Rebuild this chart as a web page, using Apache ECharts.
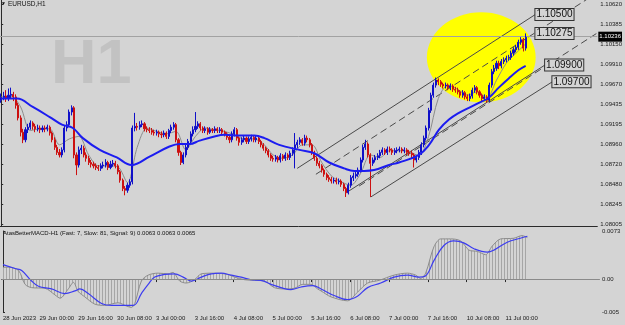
<!doctype html>
<html lang="en">
<head>
<meta charset="UTF-8">
<title>EURUSD,H1</title>
<style>
  * { margin: 0; padding: 0; }
  body { background: #d4d4d4; }
  #main { width: 625px; height: 325px; }
</style>
</head>
<body>
<div id="main"></div>
<script src="https://cdn.jsdelivr.net/npm/echarts@6/dist/echarts.min.js"></script>
<script>
// EURUSD H1, bar 0 = 28 Jun 09:00, last bar = 11 Jul 09:00 (weekend skipped)
const barCount = 246; // slots incl. the empty chart shift on the right
const firstOpen = 1.0948;

const closes = [
  1.0951, 1.0953, 1.0950, 1.0954, 1.0955, 1.0952, 1.0942, 1.0927, 1.0910, 1.0901,
  1.0913, 1.0916, 1.0921, 1.0917, 1.0914, 1.0915, 1.0913, 1.0915, 1.0914, 1.0916,
  1.0909, 1.0901, 1.0892, 1.0886, 1.0883, 1.0889, 1.0915, 1.0919, 1.0934, 1.0939,
  1.0883, 1.0871, 1.0889, 1.0891, 1.0883, 1.0879, 1.0874, 1.0872, 1.0870, 1.0868,
  1.0867, 1.0870, 1.0871, 1.0874, 1.0868, 1.0872, 1.0873, 1.0870, 1.0863, 1.0853,
  1.0843, 1.0841, 1.0847, 1.0851, 1.0915, 1.0917, 1.0916, 1.0919, 1.0920, 1.0914,
  1.0913, 1.0912, 1.0910, 1.0909, 1.0910, 1.0908, 1.0907, 1.0909, 1.0905, 1.0912,
  1.0916, 1.0919, 1.0901, 1.0886, 1.0874, 1.0883, 1.0892, 1.0899, 1.0908, 1.0913,
  1.0917, 1.0920, 1.0915, 1.0912, 1.0914, 1.0910, 1.0913, 1.0912, 1.0914, 1.0912,
  1.0913, 1.0910, 1.0908, 1.0904, 1.0901, 1.0908, 1.0913, 1.0903, 1.0898, 1.0901,
  1.0903, 1.0899, 1.0902, 1.0904, 1.0901, 1.0903, 1.0899, 1.0895, 1.0891, 1.0888,
  1.0883, 1.0879, 1.0878, 1.0880, 1.0877, 1.0882, 1.0879, 1.0883, 1.0880, 1.0885,
  1.0889, 1.0895, 1.0898, 1.0901, 1.0897, 1.0903, 1.0901, 1.0895, 1.0886, 1.0879,
  1.0873, 1.0870, 1.0865, 1.0860, 1.0856, 1.0854, 1.0852, 1.0853, 1.0851, 1.0852,
  1.0848, 1.0843, 1.0838, 1.0847, 1.0856, 1.0858, 1.0860, 1.0865, 1.0877, 1.0892,
  1.0896, 1.0883, 1.0873, 1.0877, 1.0880, 1.0882, 1.0886, 1.0889, 1.0886, 1.0890,
  1.0889, 1.0886, 1.0888, 1.0889, 1.0890, 1.0888, 1.0889, 1.0886, 1.0885, 1.0883,
  1.0877, 1.0880, 1.0886, 1.0895, 1.0903, 1.0915, 1.0936, 1.0954, 1.0966, 1.0972,
  1.0970, 1.0967, 1.0965, 1.0966, 1.0963, 1.0965, 1.0961, 1.0960, 1.0958, 1.0954,
  1.0957, 1.0952, 1.0950, 1.0953, 1.0960, 1.0963, 1.0958, 1.0954, 1.0950, 1.0952,
  1.0948, 1.0966, 1.0982, 1.0986, 1.0992, 1.0989, 1.0994, 1.0996, 1.0998, 1.0999,
  1.1004, 1.1008, 1.1011, 1.1017, 1.1020, 1.1010, 1.1023
];

const highs = [
  1.0956, 1.0958, 1.0960, 1.0962, 1.0963, 1.0958, 1.0955, 1.0945, 1.0930, 1.0914,
  1.0916, 1.0920, 1.0924, 1.0923, 1.0920, 1.0919, 1.0918, 1.0918, 1.0918, 1.0919,
  1.0918, 1.0911, 1.0904, 1.0895, 1.0890, 1.0892, 1.0918, 1.0923, 1.0937, 1.0942,
  1.0941, 1.0886, 1.0893, 1.0895, 1.0894, 1.0886, 1.0882, 1.0877, 1.0875, 1.0873,
  1.0871, 1.0873, 1.0875, 1.0878, 1.0876, 1.0876, 1.0877, 1.0876, 1.0872, 1.0865,
  1.0855, 1.0846, 1.0850, 1.0854, 1.0918, 1.0933, 1.0921, 1.0923, 1.0924, 1.0922,
  1.0917, 1.0916, 1.0915, 1.0913, 1.0913, 1.0912, 1.0911, 1.0912, 1.0911, 1.0914,
  1.0919, 1.0922, 1.0921, 1.0903, 1.0888, 1.0886, 1.0895, 1.0902, 1.0911, 1.0917,
  1.0934, 1.0923, 1.0922, 1.0917, 1.0917, 1.0916, 1.0916, 1.0915, 1.0917, 1.0916,
  1.0916, 1.0915, 1.0912, 1.0910, 1.0906, 1.0911, 1.0916, 1.0915, 1.0905, 1.0904,
  1.0906, 1.0905, 1.0905, 1.0907, 1.0906, 1.0906, 1.0905, 1.0901, 1.0897, 1.0893,
  1.0890, 1.0885, 1.0882, 1.0883, 1.0882, 1.0885, 1.0884, 1.0886, 1.0885, 1.0888,
  1.0892, 1.0909, 1.0901, 1.0904, 1.0903, 1.0907, 1.0906, 1.0903, 1.0897, 1.0888,
  1.0881, 1.0876, 1.0872, 1.0867, 1.0862, 1.0859, 1.0857, 1.0856, 1.0856, 1.0855,
  1.0854, 1.0850, 1.0845, 1.0850, 1.0859, 1.0862, 1.0864, 1.0868, 1.0880, 1.0895,
  1.0901, 1.0898, 1.0885, 1.0880, 1.0883, 1.0885, 1.0889, 1.0892, 1.0891, 1.0893,
  1.0893, 1.0891, 1.0891, 1.0892, 1.0893, 1.0892, 1.0892, 1.0891, 1.0889, 1.0888,
  1.0885, 1.0883, 1.0889, 1.0898, 1.0906, 1.0918, 1.0939, 1.0957, 1.0969, 1.0975,
  1.0974, 1.0972, 1.0969, 1.0969, 1.0968, 1.0968, 1.0967, 1.0964, 1.0963, 1.0960,
  1.0960, 1.0959, 1.0955, 1.0956, 1.0963, 1.0966, 1.0965, 1.0960, 1.0956, 1.0955,
  1.0954, 1.0969, 1.0985, 1.0990, 1.0995, 1.0995, 1.0997, 1.0999, 1.1001, 1.1002,
  1.1007, 1.1011, 1.1014, 1.1020, 1.1023, 1.1022, 1.10275
];

const lows = [
  1.0945, 1.0948, 1.0946, 1.0947, 1.0950, 1.0947, 1.0938, 1.0924, 1.0905, 1.0897,
  1.0898, 1.0909, 1.0913, 1.0913, 1.0910, 1.0911, 1.0909, 1.0910, 1.0910, 1.0911,
  1.0906, 1.0898, 1.0889, 1.0883, 1.0880, 1.0880, 1.0886, 1.0911, 1.0916, 1.0930,
  1.0879, 1.0859, 1.0868, 1.0884, 1.0880, 1.0875, 1.0871, 1.0868, 1.0867, 1.0865,
  1.0864, 1.0864, 1.0867, 1.0868, 1.0865, 1.0866, 1.0869, 1.0867, 1.0860, 1.0850,
  1.0840, 1.0835, 1.0838, 1.0844, 1.0848, 1.0911, 1.0912, 1.0913, 1.0916, 1.0911,
  1.0910, 1.0909, 1.0907, 1.0906, 1.0906, 1.0904, 1.0903, 1.0904, 1.0902, 1.0902,
  1.0909, 1.0913, 1.0898, 1.0882, 1.0871, 1.0872, 1.0880, 1.0889, 1.0896, 1.0905,
  1.0910, 1.0914, 1.0912, 1.0909, 1.0909, 1.0907, 1.0908, 1.0909, 1.0909, 1.0909,
  1.0909, 1.0907, 1.0905, 1.0901, 1.0897, 1.0898, 1.0905, 1.0900, 1.0894, 1.0895,
  1.0898, 1.0896, 1.0896, 1.0899, 1.0898, 1.0898, 1.0896, 1.0892, 1.0888, 1.0885,
  1.0880, 1.0876, 1.0875, 1.0875, 1.0874, 1.0874, 1.0876, 1.0876, 1.0877, 1.0877,
  1.0882, 1.0867, 1.0891, 1.0895, 1.0894, 1.0894, 1.0898, 1.0892, 1.0883, 1.0876,
  1.0870, 1.0867, 1.0862, 1.0857, 1.0853, 1.0851, 1.0849, 1.0849, 1.0848, 1.0848,
  1.0845, 1.0840, 1.0833, 1.0836, 1.0844, 1.0852, 1.0855, 1.0857, 1.0862, 1.0874,
  1.0889, 1.0880, 1.0833, 1.0870, 1.0874, 1.0877, 1.0879, 1.0883, 1.0883, 1.0883,
  1.0886, 1.0883, 1.0883, 1.0885, 1.0886, 1.0885, 1.0885, 1.0883, 1.0882, 1.0879,
  1.0868, 1.0874, 1.0877, 1.0883, 1.0892, 1.0900, 1.0912, 1.0933, 1.0951, 1.0963,
  1.0966, 1.0964, 1.0962, 1.0962, 1.0960, 1.0960, 1.0958, 1.0957, 1.0955, 1.0951,
  1.0951, 1.0949, 1.0947, 1.0947, 1.0950, 1.0957, 1.0955, 1.0951, 1.0946, 1.0947,
  1.0945, 1.0946, 1.0963, 1.0979, 1.0983, 1.0985, 1.0986, 1.0991, 1.0993, 1.0995,
  1.0996, 1.1001, 1.1005, 1.1008, 1.1014, 1.1006, 1.1007
];

// slow MA (thick blue) and fast MA (thin grey), [bar, price]
const maSlow = [
  [0, 1.0950], [6.5, 1.0950], [13, 1.0940], [20, 1.0928], [25, 1.0919], [29.5, 1.0915],
  [33.6, 1.0903], [40.6, 1.0889], [47.6, 1.0880], [53.7, 1.0871], [61.1, 1.0881],
  [69.3, 1.0893], [73.5, 1.0896], [77.6, 1.0896], [81.7, 1.0900], [87.8, 1.0905],
  [91.9, 1.0907], [98.1, 1.0906], [104.3, 1.0906], [108.4, 1.0903], [114.5, 1.0895],
  [122.8, 1.0889], [128.9, 1.0885], [135.1, 1.0874], [141.2, 1.0867], [145.4, 1.0864],
  [149.5, 1.0864], [153.6, 1.0865], [159.7, 1.0871], [163.8, 1.0874], [172, 1.0883],
  [176.2, 1.0895], [180.3, 1.0913], [184.4, 1.0925], [188.5, 1.0933], [192.6, 1.0939],
  [196.7, 1.0945], [200.8, 1.0951], [204.9, 1.0963], [209, 1.0974], [213.1, 1.0984],
  [216, 1.0989]
];
const maFast = [
  [0, 1.0952], [4, 1.0953], [8, 1.0940], [12, 1.0912], [16, 1.0914], [20, 1.0914],
  [24, 1.0895], [28, 1.0902], [32, 1.0905], [36, 1.0883], [40, 1.0870], [44, 1.0870],
  [48, 1.0869], [52, 1.0850], [56, 1.0892], [60, 1.0915], [64, 1.0911], [68, 1.0908],
  [72, 1.0911], [76, 1.0889], [80, 1.0905], [84, 1.0915], [88, 1.0913], [92, 1.0911],
  [96, 1.0907], [100, 1.0902], [104, 1.0902], [108, 1.0896], [112, 1.0883], [116, 1.0879],
  [120, 1.0883], [124, 1.0895], [128, 1.0895], [132, 1.0874], [136, 1.0858], [140, 1.0851],
  [144, 1.0847], [148, 1.0861], [152, 1.0883], [156, 1.0880], [160, 1.0888], [164, 1.0888],
  [168, 1.0887], [172, 1.0882], [176, 1.0905], [180, 1.0950], [184, 1.0966], [188, 1.0961],
  [192, 1.0954], [196, 1.0958], [200, 1.0951], [204, 1.0972], [208, 1.0992], [212, 1.1004],
  [216, 1.1015]
];

// drawn objects: channel lines [[bar, price], [bar, price]]
const solidLines = [
  [[121.9, 1.0867], [220, 1.1050]],
  [[142.6, 1.0839], [224, 1.0990]],
  [[152.2, 1.0833], [227, 1.0970]]
];
const dashedLines = [
  [[129.6, 1.0860], [245.5, 1.1076]],
  [[147.4, 1.0846], [245.5, 1.1028]]
];
const priceTags = [
  [220, 1.1050, '1.10500'],
  [220, 1.10275, '1.10275'],
  [224, 1.0990, '1.09900'],
  [227, 1.0970, '1.09700']
];
// highlighted zone: center bar, center price, half width (bars), half height (price)
const highlight = [197.7, 1.0999, 22.4, 0.00535];
const bidPrice = 1.10236;

const priceTicks = [1.10620, 1.10385, 1.10150, 1.09910, 1.09670, 1.09435, 1.09195,
  1.08960, 1.08720, 1.08480, 1.08245, 1.08005];

const tickIdx = [0, 15, 31, 47, 63, 79, 95, 111, 127, 143, 159, 175, 191, 207];
const tickText = ['28 Jun 2023', '29 Jun 00:00', '29 Jun 16:00', '30 Jun 08:00', '3 Jul 00:00',
  '3 Jul 16:00', '4 Jul 08:00', '5 Jul 00:00', '5 Jul 16:00', '6 Jul 08:00', '7 Jul 00:00',
  '7 Jul 16:00', '10 Jul 08:00', '11 Jul 00:00'];

// MACD (Fast 7, Slow 81, Signal 9), [bar, value]
const macdMain = [
  [0, 0.0018], [2.2, 0.0018], [6.4, 0.0013], [9.1, -0.0008], [11.8, -0.0013], [17.3, -0.0014],
  [21.4, -0.0024], [23.5, -0.0029], [26.9, -0.0015], [29, -0.0005], [31, -0.0019],
  [33.7, -0.0027], [37.8, -0.0038], [41.9, -0.0040], [47.4, -0.0036], [50.9, -0.0041],
  [52.9, -0.0043], [54.3, -0.0037], [57, -0.0003], [59.8, 0.0006], [63.9, 0.0009],
  [68, 0.0008], [70, 0.0010], [72.8, -0.0003], [75.5, -0.0006], [78.9, -0.0001],
  [81.7, 0.0008], [87.1, 0.0009], [92.6, 0.0007], [95.4, 0.0003], [99.5, -0.0001],
  [103.6, -0.0002], [107.7, -0.0003], [111.8, -0.0013], [115.9, -0.0015], [120, -0.0014],
  [123.5, -0.0008], [126.9, -0.0008], [129.6, -0.0015], [131, -0.0018], [135.1, -0.0027],
  [141.9, -0.0033], [146, -0.0020], [150.2, -0.0006], [154.9, -0.0002], [161.1, 0.0006],
  [166.6, 0.0009], [170, 0.0006], [172, 0.0001], [174.1, 0.0009], [177.5, 0.0049],
  [180.3, 0.0061], [184.4, 0.0061], [188.5, 0.0058], [191.9, 0.0044], [195.4, 0.0042],
  [198.8, 0.0037], [201.5, 0.0050], [205, 0.0061], [210.4, 0.0062], [213.8, 0.0066],
  [216, 0.0063]
];
const macdSignal = [
  [0, 0.0022], [5, 0.0016], [7.7, 0.0013], [11.8, -0.0003], [14.6, -0.0011], [20, -0.0015],
  [25.5, -0.0022], [29.6, -0.0018], [31.7, -0.0015], [35.1, -0.0022], [40.6, -0.0037],
  [44.7, -0.0040], [53.6, -0.0040], [57, -0.0022], [59.8, -0.0008], [62.5, 0.0003],
  [66.6, 0.0007], [70.7, 0.0008], [74.2, 0.0003], [77.6, -0.0003], [81.7, 0.0003],
  [85.8, 0.0008], [89.9, 0.0009], [94, 0.0006], [98.1, 0.0003], [102.2, -0.0001],
  [106.3, -0.0002], [110.4, -0.0008], [114.5, -0.0013], [118.6, -0.0016], [122.8, -0.0012],
  [127.6, -0.0010], [131, -0.0015], [136.4, -0.0025], [141.9, -0.0031], [146, -0.0026],
  [150.2, -0.0013], [155.6, -0.0006], [161.1, 0.0003], [166.6, 0.0006], [171.4, 0.0003],
  [174.1, 0.0005], [177.5, 0.0028], [181.6, 0.0051], [185.7, 0.0058], [189.8, 0.0055],
  [194, 0.0046], [199.5, 0.0041], [202.2, 0.0044], [207.7, 0.0056], [213.1, 0.0062],
  [216, 0.0065]
];

// ---- build ----
const candles = closes.map(function (c, i) {
  const o = i === 0 ? firstOpen : closes[i - 1];
  return [o, c, lows[i], highs[i]];
});
const categories = [];
for (let i = 0; i < barCount; i++) {
  const k = tickIdx.indexOf(i);
  categories.push(k >= 0 ? tickText[k] : '');
}
const isTick = function (i) { return tickIdx.indexOf(i) >= 0; };

// vertical hatch for the MACD histogram
const hatch = document.createElement('canvas');
hatch.width = 3;
hatch.height = 4;
const hctx = hatch.getContext('2d');
hctx.fillStyle = '#a6a6a6';
hctx.fillRect(0, 0, 1, 4);

const font = '"Liberation Sans", Arial, sans-serif';
const bg = '#d4d4d4';
const axisColor = '#2a2a2a';

const lineSeries = function (pts, dashed) {
  return {
    type: 'line', xAxisIndex: 2, yAxisIndex: 0, data: pts, showSymbol: false, silent: true, z: 3,
    lineStyle: { color: '#4a4a4a', width: 1, type: dashed ? [7, 4] : 'solid' }
  };
};

const chart = echarts.init(document.getElementById('main'), null, { renderer: 'canvas' });

const option = {
  animation: false,
  backgroundColor: bg,
  textStyle: { fontFamily: font },
  grid: [
    { left: 0, right: 26, top: 0, height: 226 },
    { left: 0, right: 26, top: 231, height: 81 }
  ],
  xAxis: [
    {
      type: 'category', gridIndex: 0, data: categories,
      axisLine: { show: true, lineStyle: { color: axisColor } },
      axisTick: { show: false }, axisLabel: { show: false }, splitLine: { show: false }
    },
    {
      type: 'category', gridIndex: 1, data: categories,
      axisLine: { show: true, lineStyle: { color: axisColor } },
      axisTick: { show: true, alignWithLabel: true, interval: isTick, length: 3, lineStyle: { color: axisColor } },
      axisLabel: { interval: isTick, align: 'left', fontSize: 6, color: '#1a1a1a', margin: 3, fontFamily: font },
      splitLine: { show: false }
    },
    { type: 'value', gridIndex: 0, min: -0.5, max: barCount - 0.5, show: false },
    { type: 'value', gridIndex: 1, min: -0.5, max: barCount - 0.5, show: false }
  ],
  yAxis: [
    {
      type: 'value', gridIndex: 0, position: 'right', min: 1.07985, max: 1.10672, scale: true,
      axisLine: { show: true, lineStyle: { color: axisColor } },
      axisTick: { show: true, customValues: priceTicks, length: 2, inside: false, lineStyle: { color: axisColor } },
      axisLabel: {
        customValues: priceTicks, fontSize: 6, color: '#1a1a1a', margin: 3, fontFamily: font,
        formatter: function (v) { return v.toFixed(5); }
      },
      splitLine: { show: false }
    },
    {
      type: 'value', gridIndex: 1, position: 'right', min: -0.005, max: 0.0073,
      axisLine: { show: true, lineStyle: { color: axisColor } },
      axisTick: { show: true, customValues: [0.0073, 0, -0.005], length: 2, lineStyle: { color: axisColor } },
      axisLabel: {
        customValues: [0.0073, 0, -0.005], fontSize: 6, color: '#1a1a1a', margin: 3, fontFamily: font,
        formatter: function (v) { return v === 0 ? '0.00' : (v > 0 ? '0.0073' : '-0.005'); }
      },
      splitLine: { show: false }
    }
  ],
  graphic: [
    {
      type: 'text', left: 51, top: 34, z: -1, silent: true,
      style: { text: 'H1', font: 'bold 63px ' + font, fill: '#c2c2c2' }
    },
    {
      type: 'text', left: 1, top: 1.5, silent: true,
      style: { text: '\u25BC', font: '5px ' + font, fill: '#111' }
    },
    {
      type: 'text', left: 8, top: 1, silent: true,
      style: { text: 'EURUSD,H1', font: '6.5px ' + font, fill: '#111' }
    },
    {
      type: 'text', left: 3, top: 230, silent: true,
      style: {
        text: 'AtasBetterMACD-H1 (Fast: 7, Slow: 81, Signal: 9) 0.0063 0.0063 0.0065',
        font: '6px ' + font, fill: '#111'
      }
    }
  ],
  series: [
    {
      type: 'custom', xAxisIndex: 2, yAxisIndex: 0, z: 1, silent: true,
      data: [highlight],
      renderItem: function (params, api) {
        const c = api.coord([api.value(0), api.value(1)]);
        const s = api.size([api.value(2), api.value(3)]);
        return {
          type: 'circle', x: c[0], y: c[1], scaleY: s[1] / s[0],
          shape: { cx: 0, cy: 0, r: s[0] },
          style: { fill: '#ffff00' }
        };
      }
    },
    {
      type: 'candlestick', xAxisIndex: 0, yAxisIndex: 0, data: candles, barWidth: 1.6, z: 5, silent: true,
      itemStyle: { color: '#1010c8', color0: '#cc1010', borderColor: '#1010c8', borderColor0: '#cc1010', borderWidth: 1 },
      markLine: {
        symbol: 'none', silent: true, precision: 5, data: [{ yAxis: bidPrice }],
        lineStyle: { color: '#a2a2a2', width: 1, type: 'solid' },
        label: {
          position: 'end', distance: 1, formatter: bidPrice.toFixed(5), fontSize: 6, fontFamily: font,
          color: '#fff', backgroundColor: '#000', padding: [2, 1]
        }
      }
    },
    {
      type: 'line', xAxisIndex: 2, yAxisIndex: 0, data: maFast, smooth: 0.3, showSymbol: false, silent: true, z: 4,
      lineStyle: { color: '#8c8c8c', width: 1 }
    },
    {
      type: 'line', xAxisIndex: 2, yAxisIndex: 0, data: maSlow, smooth: 0.4, showSymbol: false, silent: true, z: 6,
      lineStyle: { color: '#1c1cf0', width: 2 }
    }
  ]
    .concat(solidLines.map(function (l) { return lineSeries(l, false); }))
    .concat(dashedLines.map(function (l) { return lineSeries(l, true); }))
    .concat([
      {
        type: 'custom', xAxisIndex: 2, yAxisIndex: 0, z: 7, silent: true,
        data: priceTags.map(function (t) { return [t[0], t[1]]; }),
        renderItem: function (params, api) {
          const p = api.coord([api.value(0), api.value(1)]);
          return {
            type: 'text', x: p[0], y: p[1],
            style: {
              text: priceTags[params.dataIndex][2], font: '10px ' + font, fill: '#111',
              align: 'left', verticalAlign: 'middle',
              backgroundColor: bg, borderColor: '#333', borderWidth: 1, padding: [1, 1, 0, 1]
            }
          };
        }
      },
      {
        type: 'line', xAxisIndex: 3, yAxisIndex: 1, data: macdMain, smooth: 0.3, showSymbol: false, silent: true,
        lineStyle: { color: '#8c8c8c', width: 1 },
        areaStyle: { color: { image: hatch, repeat: 'repeat' }, opacity: 1 },
        markLine: {
          symbol: 'none', silent: true, data: [{ yAxis: 0 }],
          lineStyle: { color: '#8a8a8a', width: 1, type: 'solid' }, label: { show: false }
        }
      },
      {
        type: 'line', xAxisIndex: 3, yAxisIndex: 1, data: macdSignal, smooth: 0.4, showSymbol: false, silent: true,
        lineStyle: { color: '#3c3cf0', width: 1.2 }
      }
    ])
};

chart.setOption(option);
</script>
</body>
</html>
